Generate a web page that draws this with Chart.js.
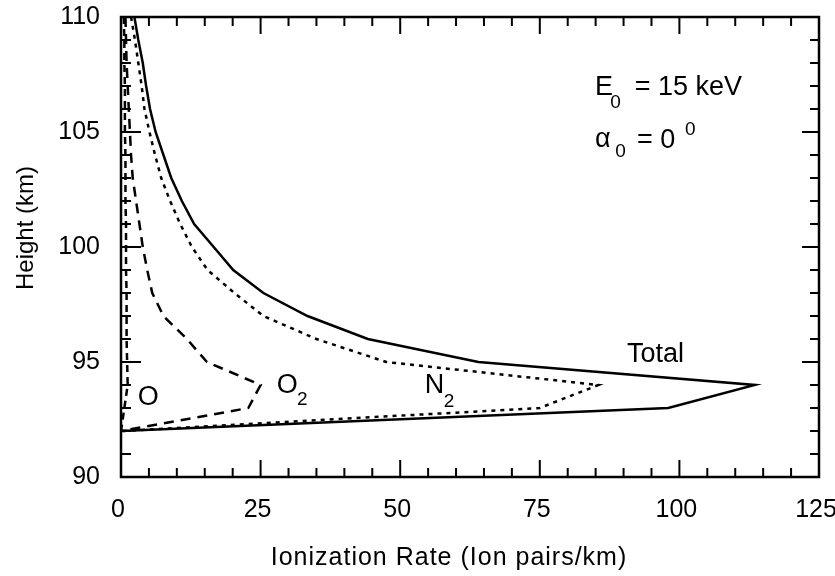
<!DOCTYPE html>
<html>
<head>
<meta charset="utf-8">
<script src="https://cdn.jsdelivr.net/npm/chart.js@4.4.1/dist/chart.umd.min.js"></script>
<style>
  html, body { margin: 0; padding: 0; background: #fff; }
  #wrap { width: 835px; height: 576px; }
</style>
</head>
<body>
<div id="wrap"><canvas id="ionChart" width="835" height="576"></canvas></div>
<script>
// Height levels (km) and ionization rates (ion pairs/km)
const heights = [110, 109, 108, 107, 106, 105, 104, 103, 102, 101, 100, 99, 98, 97, 96, 95, 94, 93, 92];
const totalRate = [2.4, 3.1, 3.9, 4.5, 5.2, 6.2, 7.6, 9.0, 10.9, 13.1, 16.6, 20.1, 25.5, 33.4, 44.2, 64.0, 113.5, 98.0, 0];
const n2Rate    = [1.8, 2.5, 3.1, 3.7, 4.2, 5.1, 6.1, 7.2, 8.8, 10.6, 12.7, 15.5, 20.3, 25.5, 35.0, 47.5, 85.5, 75.0, 0];
const o2Rate    = [0.8, 0.9, 1.0, 1.2, 1.4, 1.6, 1.8, 2.1, 2.7, 3.3, 3.9, 4.7, 5.6, 7.6, 11.8, 15.4, 25.0, 22.8, 0];
const oRate     = [0.5, 0.6, 0.6, 0.7, 0.7, 0.7, 0.8, 0.8, 0.8, 0.9, 0.9, 0.9, 1.0, 1.0, 1.0, 1.1, 1.2, 0.6, 0];

const xTicks = [0, 25, 50, 75, 100, 125];
const yTicks = [90, 95, 100, 105, 110];

const FONT = '"Liberation Sans", Arial, Helvetica, sans-serif';

// text pieces placed in data units (left edge, baseline)
const notes = [
    { t: 'Total', x: 90.6, y: 95.0, s: 27 },
    { t: 'N', x: 54.4, y: 93.65, s: 27 },
    { t: '2', x: 57.8, y: 93.04, s: 19 },
    { t: 'O', x: 27.9, y: 93.65, s: 27 },
    { t: '2', x: 31.5, y: 93.13, s: 19 },
    { t: 'O', x: 3.0, y: 93.13, s: 27 },
    { t: 'E', x: 84.9, y: 106.61, s: 27 },
    { t: '0', x: 87.6, y: 106.04, s: 19 },
    { t: '= 15 keV', x: 92.0, y: 106.61, s: 27 },
    { t: '\u03b1', x: 84.9, y: 104.35, s: 27 },
    { t: '0', x: 88.5, y: 103.91, s: 19 },
    { t: '= 0', x: 92.4, y: 104.3, s: 27 },
    { t: '0', x: 101.0, y: 104.87, s: 19 }
];

function toPoints(vals) {
    return vals.map((v, i) => ({ x: v, y: heights[i] }));
}

function lineSet(label, vals, dash) {
    return {
        label: label,
        data: toPoints(vals),
        borderColor: '#000',
        borderWidth: 2.5,
        borderDash: dash,
        pointRadius: 0,
        tension: 0,
        fill: false
    };
}

// frame, inward ticks on all four sides, titles and in-plot labels
const framePlugin = {
    id: 'frame',
    afterDatasetsDraw(chart) {
        const ctx = chart.ctx;
        const a = chart.chartArea;
        const xs = chart.scales.x, ys = chart.scales.y;
        ctx.save();
        ctx.strokeStyle = '#000';
        ctx.lineWidth = 2;
        ctx.beginPath();
        for (let v = 0; v <= 125; v += 5) {
            const px = xs.getPixelForValue(v);
            const len = v % 25 === 0 ? 17 : 9;
            ctx.moveTo(px, a.bottom); ctx.lineTo(px, a.bottom - len);
            ctx.moveTo(px, a.top); ctx.lineTo(px, a.top + len);
        }
        for (let v = 90; v <= 110; v += 1) {
            const py = ys.getPixelForValue(v);
            const major = v % 5 === 0;
            ctx.moveTo(a.left, py); ctx.lineTo(a.left + (major ? 20 : 10), py);
            ctx.moveTo(a.right, py); ctx.lineTo(a.right - (major ? 17 : 9), py);
        }
        ctx.stroke();
        ctx.lineWidth = 2.5;
        ctx.strokeRect(a.left, a.top, a.right - a.left, a.bottom - a.top);

        ctx.fillStyle = '#000';
        ctx.textAlign = 'left';
        ctx.textBaseline = 'alphabetic';
        notes.forEach(n => {
            ctx.font = n.s + 'px ' + FONT;
            ctx.fillText(n.t, xs.getPixelForValue(n.x), ys.getPixelForValue(n.y));
        });

        // axis titles
        ctx.textAlign = 'center';
        ctx.textBaseline = 'middle';
        ctx.font = '25px ' + FONT;
        ctx.letterSpacing = '1px';
        ctx.fillText('Ionization Rate (Ion pairs/km)', 449, 558);
        ctx.letterSpacing = '0px';
        ctx.font = '24px ' + FONT;
        ctx.translate(26, 228);
        ctx.rotate(-Math.PI / 2);
        ctx.fillText('Height (km)', 0, 0);
        ctx.restore();
    }
};

const ctx = document.getElementById('ionChart').getContext('2d');
const ionChart = new Chart(ctx, {
    type: 'line',
    data: {
        datasets: [
            lineSet('Total', totalRate, []),
            lineSet('N2', n2Rate, [4, 5]),
            lineSet('O2', o2Rate, [10, 7]),
            lineSet('O', oRate, [7, 5])
        ]
    },
    options: {
        responsive: false,
        animation: false,
        devicePixelRatio: 1,
        layout: { padding: { top: 17, right: 16, left: 0, bottom: 0 } },
        plugins: {
            legend: { display: false },
            tooltip: { enabled: false }
        },
        scales: {
            x: {
                type: 'linear',
                min: 0,
                max: 125,
                grid: { display: false, drawTicks: false },
                border: { display: false },
                afterBuildTicks: s => { s.ticks = xTicks.map(v => ({ value: v })); },
                ticks: {
                    color: '#000',
                    font: { family: FONT, size: 25 },
                    padding: 18,
                    labelOffset: -3,
                    maxRotation: 0,
                    autoSkip: false
                },
                afterFit: s => { s.height = 99; s.paddingLeft = 0; s.paddingRight = 0; }
            },
            y: {
                type: 'linear',
                min: 90,
                max: 110,
                grid: { display: false, drawTicks: false },
                border: { display: false },
                afterBuildTicks: s => { s.ticks = yTicks.map(v => ({ value: v })); },
                ticks: {
                    color: '#000',
                    font: { family: FONT, size: 25 },
                    padding: 21,
                    autoSkip: false
                },
                afterFit: s => { s.width = 121; s.paddingTop = 0; s.paddingBottom = 0; }
            }
        }
    },
    plugins: [framePlugin]
});
</script>
</body>
</html>
